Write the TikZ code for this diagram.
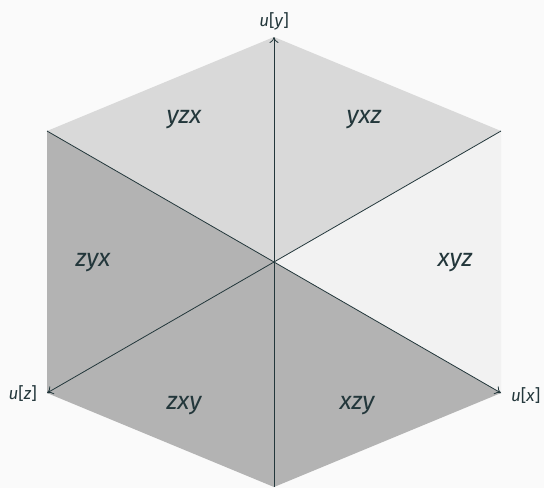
\documentclass[tikz,border=0pt]{standalone}
\usepackage{fontspec}
\setmainfont{Fira Sans}
\usetikzlibrary{arrows.meta}
\definecolor{bgcol}{HTML}{FAFAFA}
\definecolor{linecol}{HTML}{23373B}
\definecolor{facelight}{HTML}{D9D9D9}
\definecolor{facepale}{HTML}{F2F2F2}
\definecolor{facedark}{HTML}{B3B3B3}

\begin{document}
\begin{tikzpicture}[x=1pt, y=-1pt,
  perm/.style={font=\fontsize{25}{25}\selectfont\itshape, text=linecol},
  axlabel/.style={font=\fontsize{17}{17}\selectfont, text=linecol, inner sep=0pt},
  edge/.style={draw=linecol, line width=0.8pt},
  axis/.style={edge, -{To[length=6pt,width=9pt]}}]
\fill[bgcol] (0,0) rectangle (544,488);
\useasboundingbox (0,0) rectangle (544,488);
%----- corners of the hexagon -----
\coordinate (O)  at (274,262);
\coordinate (T)  at (274,37);
\coordinate (UR) at (501,131);
\coordinate (LR) at (501,393);
\coordinate (B)  at (274,487);
\coordinate (LL) at (47,393);
\coordinate (UL) at (47,131);
%----- faces -----
\fill[facelight] (O) -- (UL) -- (T) -- cycle;
\fill[facelight] (O) -- (T) -- (UR) -- cycle;
\fill[facepale]  (O) -- (UR) -- (LR) -- cycle;
\fill[facedark]  (O) -- (LR) -- (B) -- (LL) -- (UL) -- cycle;
%----- dividing lines and axes -----
\draw[edge] (O) -- (UL);
\draw[edge] (O) -- (UR);
\draw[edge] (O) -- (B);
\draw[axis] (O) -- (T);
\draw[axis] (O) -- (LR);
\draw[axis] (O) -- (LL);
\node[axlabel, above=7pt] (uy) at (T) {\textit{u}[\textit{y}]};
\node[axlabel, anchor=west] (ux) at ([xshift=10pt,yshift=-3pt]LR) {\textit{u}[\textit{x}]};
\node[axlabel, anchor=east] (uz) at ([xshift=-10pt,yshift=-1pt]LL) {\textit{u}[\textit{z}]};
%----- orderings -----
\node[perm] (yzx) at (184,120) {yzx};
\node[perm] (yxz) at (364,120) {yxz};
\node[perm] (zyx) at (93,263)  {zyx};
\node[perm] (xyz) at (455,263) {xyz};
\node[perm] (zxy) at (184,406) {zxy};
\node[perm] (xzy) at (357,406) {xzy};
\end{tikzpicture}
\end{document}
